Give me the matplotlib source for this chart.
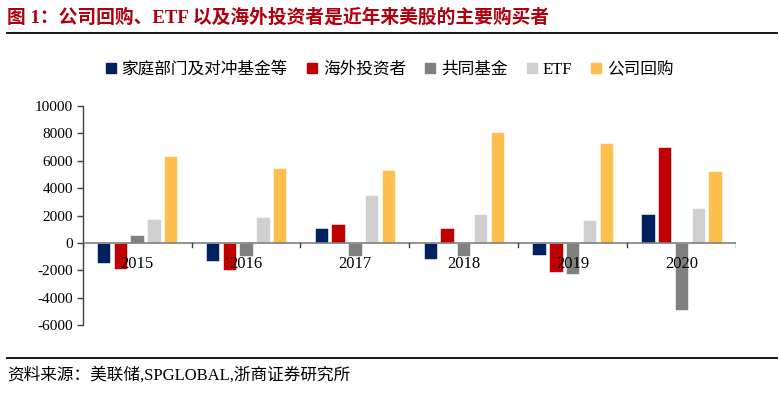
import numpy as np
import matplotlib
matplotlib.use('Agg')
import matplotlib.pyplot as plt
from matplotlib.lines import Line2D

plt.rcParams['font.family'] = ['Liberation Serif', 'Noto Sans CJK SC']

years = ['2015', '2016', '2017', '2018', '2019', '2020']
series_names = ['家庭部门及对冲基金等', '海外投资者', '共同基金', 'ETF', '公司回购']
household = [-1430, -1330, 1070, -1190, -900, 2110]
foreign = [-1920, -1990, 1360, 1120, -2090, 6990]
mutual = [560, -950, -950, -950, -2230, -4850]
etf = [1720, 1890, 3500, 2110, 1670, 2550]
buyback = [6330, 5440, 5320, 8060, 7310, 5220]
colors = ['#002060', '#C00000', '#808080', '#D0D0D0', '#FFBF4F']

yticks = [-6000, -4000, -2000, 0, 2000, 4000, 6000, 8000, 10000]

fig = plt.figure(figsize=(7.79, 3.93), dpi=100)
ax = fig.add_axes([0.1062, 0.1723, 0.8386, 0.5587])

x = np.arange(len(years))
pitch = 0.154
width = 0.123
all_series = [household, foreign, mutual, etf, buyback]
for i, (vals, c) in enumerate(zip(all_series, colors)):
    ax.bar(x + (i - 2) * pitch, vals, width=width, color=c, label=series_names[i],
           edgecolor='white', linewidth=0.4, zorder=2)

ax.set_xlim(-0.5, len(years) - 0.5)
ax.set_ylim(-6000, 10000)
ax.set_yticks(yticks)
ax.set_yticklabels([str(v) for v in yticks], fontsize=11)
ax.set_xticks([])

for s in ['top', 'right', 'bottom']:
    ax.spines[s].set_visible(False)
ax.spines['left'].set_color('#404040')
ax.spines['left'].set_linewidth(1.0)
ax.tick_params(axis='y', direction='out', length=4, width=1, color='#404040', pad=3)

# zero line with category boundary ticks
ax.axhline(0, color='#808080', linewidth=1.2, zorder=3)
for b in np.arange(len(years) + 1) - 0.5:
    ax.plot([b, b], [0, -280], color='#404040', linewidth=1, zorder=3)

# year labels just below the zero line
for xi, yr in zip(x, years):
    ax.text(xi, -950, yr, ha='center', va='top', fontsize=12, zorder=4)

handles = [Line2D([0], [0], marker='s', linestyle='none', markersize=7,
                  markerfacecolor=c, markeredgecolor=c) for c in colors]
fig.legend(handles, series_names, loc='center', bbox_to_anchor=(0.5, 1 - 70 / 393),
           ncol=5, frameon=False, fontsize=12, handlelength=0.7, handletextpad=0.3,
           columnspacing=1.1, borderaxespad=0)

# title, rules and source
fig.text(7 / 779, 1 - 17 / 393, '图 1：公司回购、ETF 以及海外投资者是近年来美股的主要购买者',
         ha='left', va='center', fontsize=13.5, fontweight='bold', color='#B0000E')
fig.add_artist(Line2D([7 / 779, 777 / 779], [1 - 33 / 393] * 2, color='black', linewidth=1.3))
fig.add_artist(Line2D([7 / 779, 777 / 779], [1 - 358 / 393] * 2, color='black', linewidth=1.3))
fig.text(7 / 779, 1 - 375 / 393, '资料来源：美联储,SPGLOBAL,浙商证券研究所',
         ha='left', va='center', fontsize=12, color='black')

fig.savefig('out.png', dpi=100)
